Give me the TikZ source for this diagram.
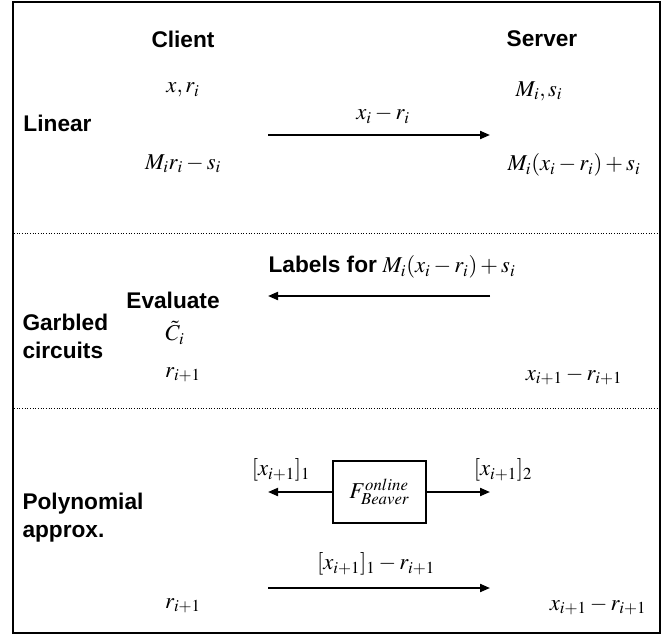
\documentclass[tikz,border=0pt]{standalone}
\usepackage{mathptmx}
\usepackage{fontspec}
\setmainfont{Liberation Serif}
\newfontfamily\headfont{Liberation Sans}
\usetikzlibrary{arrows.meta}

\tikzset{every picture/.style={line width=0.75pt}}
\tikzset{
  head/.style={font=\headfont\bfseries\fontsize{17}{21}\selectfont, inner sep=0.75pt},
  val/.style={font=\fontsize{17}{21}\selectfont, inner sep=0.75pt},
  msg/.style={line width=1.5pt, -{Triangle[length=7.5pt,width=6pt]}},
  split/.style={line width=0.75pt, dash pattern=on 0.75pt off 1.25pt}
}

\begin{document}
\begin{tikzpicture}[x=0.75pt,y=0.75pt,yscale=-1,xscale=1]
\useasboundingbox (0,0) rectangle (663,636);

%Shape: Rectangle [id:frame]
\draw [line width=1.5pt] (13,1.5) rectangle (660,633) ;
%Straight Lines [id:split1]
\draw [split] (14,233) -- (659,233) ;
%Straight Lines [id:split2]
\draw [split] (14,408) -- (659,408) ;

% Text Node
\draw (183,39) node (client) [head] {Client};
% Text Node
\draw (542,39) node (server) [head] {Server};
% Text Node
\draw (22,123) node (linear) [head, anchor=west] {Linear};
% Text Node
\draw (183,90) node (cxr) [val] {$x, r_i$};
% Text Node
\draw (539,91) node (sms) [val] {$M_i, s_i$};
% Text Node
\draw (383,115) node (lmsg) [val] {$x_i - r_i$};
% Text Node
\draw (183,164) node (cmrs) [val] {$M_i r_i - s_i$};
% Text Node
\draw (574,165) node (smxrs) [val] {$M_i(x_i - r_i) + s_i$};

%Straight Lines [id:linarrow]
\coordinate (la1) at (268,135) ;
\coordinate (la2) at (490,135) ;
\draw [msg] (la1) -- (la2) ;

% Text Node
\draw (21,336) node (garbled) [head, anchor=west, align=left] {Garbled\\circuits};
% Text Node
\draw (392,267) node (gmsg) [val] {{\headfont\bfseries Labels for} $M_i(x_i - r_i) + s_i$};
% Text Node
\draw (173,300) node (evaluate) [head] {Evaluate};
% Text Node
\draw (175,333) node (ctilde) [val] {$\tilde{C}_i$};
% Text Node
\draw (183,375) node (gcr) [val] {$r_{i+1}$};
% Text Node
\draw (574,376) node (gsxr) [val] {$x_{i+1} - r_{i+1}$};

%Straight Lines [id:gcarrow]
\coordinate (ga1) at (490,296) ;
\coordinate (ga2) at (268,296) ;
\draw [msg] (ga1) -- (ga2) ;

% Text Node
\draw (21,518) node (poly) [head, anchor=west, align=left] {Polynomial\\approx.};
% Text Node
\draw (379.5,492) node (beaver) [draw, line width=1.5pt, minimum width=69.75pt, minimum height=46.5pt, inner sep=0pt, font=\fontsize{17}{21}\selectfont] {$F^{online}_{Beaver}$};
% Text Node
\draw (281,470) node (share1) [val] {$[x_{i+1}]_1$};
% Text Node
\draw (503,470) node (share2) [val] {$[x_{i+1}]_2$};
% Text Node
\draw (376,564) node (pmsg) [val] {$[x_{i+1}]_1 - r_{i+1}$};
% Text Node
\draw (183,606) node (pcr) [val] {$r_{i+1}$};
% Text Node
\draw (598,606) node (psxr) [val] {$x_{i+1} - r_{i+1}$};

%Straight Lines [id:beaverleft]
\coordinate (bl) at (268,492) ;
\draw [msg] (beaver.west) -- (bl) ;
%Straight Lines [id:beaverright]
\coordinate (br) at (490,492) ;
\draw [msg] (beaver.east) -- (br) ;
%Straight Lines [id:polyarrow]
\coordinate (pa1) at (268,588) ;
\coordinate (pa2) at (490,588) ;
\draw [msg] (pa1) -- (pa2) ;

\end{tikzpicture}
\end{document}
